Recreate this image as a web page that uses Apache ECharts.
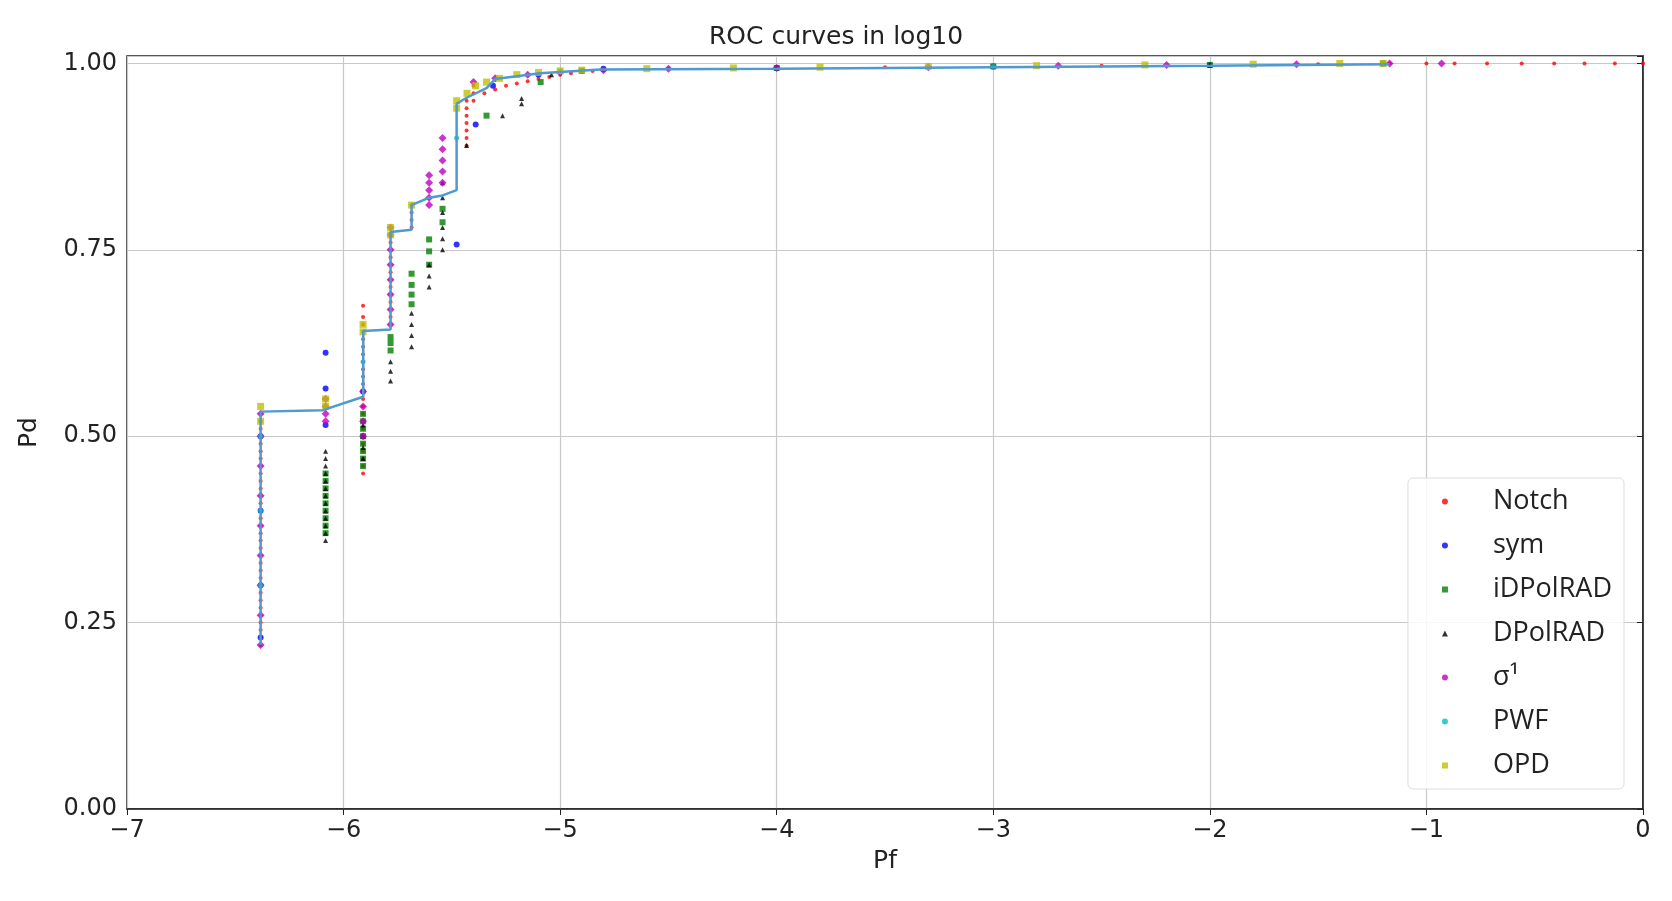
<!DOCTYPE html>
<html><head><meta charset="utf-8">
<script src="https://cdn.jsdelivr.net/npm/echarts@6/dist/echarts.min.js"></script>
<style>html,body{margin:0;padding:0;background:#fff}#c{width:1672px;height:901px}</style>
</head><body><div id="c"></div>
<script>
const xTicks = [-7,-6,-5,-4,-3,-2,-1,0];
const yTicks = [0,0.25,0.5,0.75,1];
// column data: [x, [y values]]
const colA = [0.22,0.23,0.24,0.25,0.26,0.27,0.28,0.29,0.30,0.31,0.32,0.33,0.34,0.35,0.36,0.37,0.38,0.39,0.40,0.41,0.42,0.43,0.44,0.45,0.46,0.47,0.48,0.49,0.50,0.51,0.52,0.53];
const notchCols = [[-6.383,colA],[-5.91,[0.45,0.46,0.47,0.48,0.49,0.50,0.51,0.52,0.53,0.54,0.55,0.56,0.57,0.58,0.59,0.60,0.61,0.62,0.63,0.64,0.65,0.66,0.675]],[-5.783,[0.65,0.66,0.67,0.68,0.69,0.70,0.71,0.72,0.73,0.74,0.75,0.76,0.77]],[-5.686,[0.78,0.79,0.80,0.81]],[-5.432,[0.89,0.90,0.91,0.92,0.93,0.94,0.95]],[-5.40,[0.95,0.96,0.97]],[-5.35,[0.96]],[-5.30,[0.965]],[-5.25,[0.97]],[-5.20,[0.973]],[-5.15,[0.976]],[-5.10,[0.979]],[-5.05,[0.982]],[-5.0,[0.985]],[-4.95,[0.987]],[-4.9,[0.989]],[-4.85,[0.99]],[-4.8,[0.991]],[-4.5,[0.993]],[-4.0,[0.994]],[-3.5,[0.995]],[-3.0,[0.996]],[-2.5,[0.997]],[-2.0,[0.998]],[-1.5,[0.999]],[-1.17,[1.0]],[-1.0,[1.0]],[-0.87,[1.0]],[-0.72,[1.0]],[-0.56,[1.0]],[-0.41,[1.0]],[-0.27,[1.0]],[-0.13,[1.0]],[0,[1.0]]];
const symCols = [[-6.383,[0.23,0.3,0.4,0.5]],[-6.083,[0.515,0.564,0.612]],[-5.91,[0.5,0.56]],[-5.478,[0.757]],[-5.39,[0.918]],[-5.31,[0.97]],[-5.1,[0.985]],[-4.8,[0.993]],[-4.0,[0.994]],[-3.0,[0.996]],[-2.0,[0.998]],[-1.2,[1.0]]];
const idpCols = [[-6.083,[0.37,0.38,0.39,0.40,0.41,0.42,0.43,0.44,0.45]],[-5.91,[0.46,0.47,0.48,0.49,0.50,0.51,0.52,0.53]],[-5.783,[0.615,0.625,0.633]],[-5.686,[0.677,0.69,0.703,0.718]],[-5.605,[0.73,0.748,0.764]],[-5.543,[0.787,0.805]],[-5.34,[0.93]],[-5.09,[0.975]],[-4.9,[0.99]],[-4.0,[0.994]],[-3.0,[0.996]],[-2.0,[0.998]],[-1.2,[1.0]]];
const dpCols = [[-6.083,[0.36,0.37,0.38,0.39,0.40,0.41,0.42,0.43,0.44,0.45,0.46,0.47,0.48]],[-5.91,[0.47,0.485,0.50,0.515]],[-5.783,[0.574,0.587,0.60]],[-5.686,[0.62,0.635,0.65,0.665]],[-5.605,[0.70,0.715,0.73]],[-5.543,[0.75,0.765,0.78,0.80,0.82,0.84]],[-5.432,[0.89]],[-5.266,[0.93]],[-5.178,[0.946,0.953]],[-5.04,[0.985]],[-4.0,[0.994]],[-3.0,[0.996]],[-2.0,[0.998]],[-1.2,[1.0]]];
const sigCols = [[-6.383,[0.22,0.26,0.30,0.34,0.38,0.42,0.46,0.50,0.53]],[-6.083,[0.52,0.53,0.54,0.55]],[-5.91,[0.50,0.52,0.54,0.56]],[-5.783,[0.65,0.67,0.69,0.71,0.73,0.75,0.77,0.78]],[-5.605,[0.81,0.82,0.83,0.84,0.85]],[-5.543,[0.84,0.855,0.87,0.885,0.90]],[-5.40,[0.975]],[-5.30,[0.98]],[-5.15,[0.985]],[-5.0,[0.988]],[-4.8,[0.991]],[-4.5,[0.993]],[-4.0,[0.994]],[-3.3,[0.995]],[-2.7,[0.997]],[-2.2,[0.998]],[-1.6,[0.999]],[-1.17,[1.0]],[-0.93,[1.0]]];
const pwfCols = [[-6.383,[0.3,0.4,0.5]],[-5.91,[0.6]],[-5.478,[0.9]],[-5.0,[0.99]],[-3.0,[0.996]],[-1.2,[1.0]]];
const opdCols = [[-6.383,[0.52,0.54]],[-6.083,[0.54,0.55]],[-5.91,[0.64,0.65]],[-5.783,[0.77,0.78]],[-5.686,[0.81]],[-5.478,[0.94,0.95]],[-5.43,[0.96]],[-5.39,[0.97]],[-5.34,[0.975]],[-5.28,[0.98]],[-5.2,[0.985]],[-5.1,[0.988]],[-5.0,[0.99]],[-4.9,[0.991]],[-4.6,[0.993]],[-4.2,[0.994]],[-3.8,[0.995]],[-3.3,[0.996]],[-2.8,[0.997]],[-2.3,[0.998]],[-1.8,[0.999]],[-1.4,[1.0]],[-1.2,[1.0]]];
const rocLine = [[-6.383,0.22],[-6.383,0.533],[-6.095,0.535],[-5.909,0.553],[-5.909,0.641],[-5.783,0.643],[-5.783,0.774],[-5.686,0.777],[-5.686,0.81],[-5.605,0.82],[-5.543,0.823],[-5.478,0.83],[-5.478,0.946],[-5.432,0.954],[-5.34,0.967],[-5.30,0.979],[-5.093,0.987],[-4.816,0.992],[-4.0,0.993],[-3.0,0.995],[-2.0,0.997],[-1.17,0.999]];
function pts(cols){const o=[];cols.forEach(c=>c[1].forEach(y=>o.push([c[0],y])));return o;}
const ch = echarts.init(document.getElementById('c'));
const sc=(name,data,color,symbol,size)=>({name,type:'scatter',data:pts(data),symbol,symbolSize:size,itemStyle:{color},z:3});
const li=(name,icon)=>({name,icon});
ch.setOption({
 animation:false,
 title:{text:'ROC curves in log10',left:'center',top:20,textStyle:{fontFamily:'DejaVu Sans',fontSize:25,fontWeight:'normal',color:'#222'}},
 grid:{left:127,right:29,top:56,bottom:92,show:true,borderColor:'#222',borderWidth:1.5},
 xAxis:{type:'value',min:-7,max:0,interval:1,name:'Pf',nameLocation:'middle',nameGap:40,
  nameTextStyle:{fontFamily:'DejaVu Sans',fontSize:25,color:'#222'},
  axisLine:{onZero:false,lineStyle:{color:'#222',width:1.5}},axisTick:{show:true,length:6,lineStyle:{color:'#222'}},
  axisLabel:{fontFamily:'DejaVu Sans',fontSize:24,color:'#222',margin:10,formatter:v=>String(v).replace('-','\u2212')},
  splitLine:{lineStyle:{color:'#c8c8c8',width:1.2}}},
 yAxis:{type:'value',min:0,max:1.01,interval:0.25,name:'Pd',nameLocation:'middle',nameGap:85,
  nameTextStyle:{fontFamily:'DejaVu Sans',fontSize:25,color:'#222'},
  axisLine:{lineStyle:{color:'#222',width:1.5}},axisTick:{show:true,length:6,lineStyle:{color:'#222'}},
  axisLabel:{fontFamily:'DejaVu Sans',fontSize:24,color:'#222',margin:10,formatter:v=>v>1.005?'':v.toFixed(2)},
  splitLine:{lineStyle:{color:'#c8c8c8',width:1.2}}},
 legend:{orient:'vertical',right:48,bottom:112,itemGap:17,itemWidth:6,itemHeight:6,
  backgroundColor:'rgba(255,255,255,0.85)',borderColor:'#ddd',borderWidth:1,borderRadius:5,padding:[10,12,10,34],
  textStyle:{fontFamily:'Open Sans',fontSize:27,color:'#222',padding:[0,0,0,40]},
  data:[li('Notch','circle'),li('sym','circle'),li('iDPolRAD','rect'),li('DPolRAD','triangle'),li('σ¹','circle'),li('PWF','circle'),li('OPD','rect')]},
 series:[
  sc('Notch',notchCols,'#ff0000','circle',4),
  sc('sym',symCols,'#0000ff','circle',6),
  sc('iDPolRAD',idpCols,'#008000','rect',6),
  sc('DPolRAD',dpCols,'#000000','triangle',5),
  sc('σ¹',sigCols,'#bf00bf','diamond',8),
  sc('PWF',pwfCols,'#00bfbf','circle',5),
  sc('OPD',opdCols,'#bfbf00','rect',7),
  {type:'line',data:rocLine,showSymbol:false,lineStyle:{color:'#4f9ad0',width:2.5},z:4}
 ]
});
</script></body></html>
